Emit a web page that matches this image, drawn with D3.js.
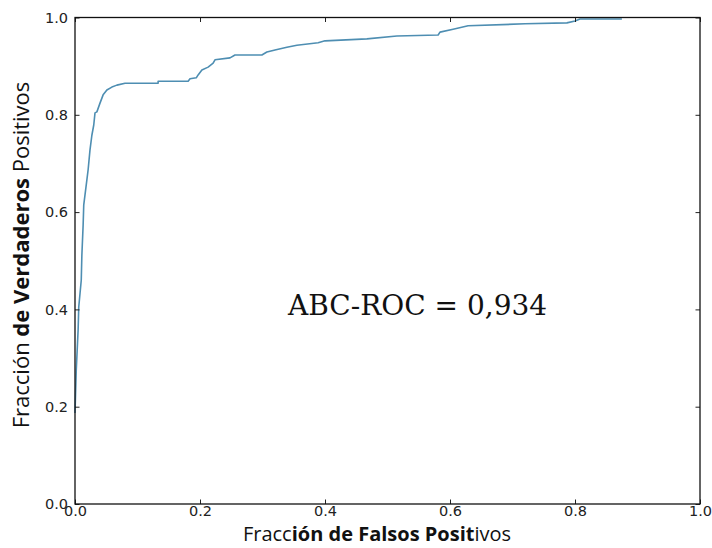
<!DOCTYPE html>
<html>
<head>
<meta charset="utf-8">
<script src="https://cdn.jsdelivr.net/npm/d3@7"></script>
<style>
  html, body { margin: 0; padding: 0; background: #fff; }
  svg { display: block; }
</style>
</head>
<body>
<svg id="chart"></svg>
<script>
// ROC curve points
const fpr = [0.000, 0.002, 0.005, 0.006, 0.010, 0.011, 0.013, 0.014, 0.018, 0.021,
             0.024, 0.027, 0.030, 0.032, 0.035, 0.040, 0.045, 0.051, 0.059, 0.067,
             0.080, 0.133, 0.133, 0.181, 0.184, 0.194, 0.197, 0.203, 0.213, 0.221,
             0.224, 0.248, 0.256, 0.299, 0.307, 0.320, 0.339, 0.355, 0.389, 0.400,
             0.467, 0.515, 0.581, 0.584, 0.605, 0.629, 0.720, 0.787, 0.800, 0.808, 0.875];
const tpr = [0.187, 0.275, 0.358, 0.405, 0.460, 0.512, 0.573, 0.615, 0.656, 0.687,
             0.728, 0.758, 0.779, 0.804, 0.806, 0.824, 0.841, 0.851, 0.857, 0.861,
             0.865, 0.865, 0.869, 0.869, 0.874, 0.876, 0.882, 0.892, 0.898, 0.906,
             0.913, 0.917, 0.923, 0.923, 0.929, 0.933, 0.939, 0.943, 0.948, 0.952,
             0.956, 0.962, 0.964, 0.970, 0.976, 0.983, 0.987, 0.989, 0.993, 0.997, 0.997];
const xTicks = [0, 0.2, 0.4, 0.6, 0.8, 1.0];
const yTicks = [0, 0.2, 0.4, 0.6, 0.8, 1.0];
const xLabelParts = [["Fracc", "normal"], ["ión de Falsos Posit", "bold"], ["ivos", "normal"]];
const yLabelParts = [["Fracción ", "normal"], ["de Verdaderos", "bold"], [" Positivos", "normal"]];
const aucText = "ABC-ROC = 0,934";

const width = 712, height = 548;
const margin = { top: 17.5, right: 12, bottom: 44, left: 75 };

const svg = d3.select("#chart")
  .attr("width", width)
  .attr("height", height);

const x = d3.scaleLinear().domain([0, 1]).range([margin.left, width - margin.right]);
const y = d3.scaleLinear().domain([0, 1]).range([height - margin.bottom, margin.top]);

const tickFont = "DejaVu Sans";

// curve
const pts = fpr.map((d, i) => [d, tpr[i]]);
const line = d3.line().x(d => x(d[0])).y(d => y(d[1]));
svg.append("path")
  .datum(pts)
  .attr("d", line)
  .attr("fill", "none")
  .attr("stroke", "#4e8eb2")
  .attr("stroke-width", 1.6)
  .attr("stroke-linejoin", "round");

// axes: ticks pointing inwards on all four sides
const tk = 4.5;
const axBottom = svg.append("g").attr("transform", `translate(0,${y(0)})`)
  .call(d3.axisBottom(x).tickValues(xTicks).tickSizeInner(-tk).tickSizeOuter(0).tickPadding(2).tickFormat(d3.format(".1f")));
const axTop = svg.append("g").attr("transform", `translate(0,${y(1)})`)
  .call(d3.axisTop(x).tickValues(xTicks).tickSizeInner(-tk).tickSizeOuter(0).tickFormat(""));
const axLeft = svg.append("g").attr("transform", `translate(${x(0)},0)`)
  .call(d3.axisLeft(y).tickValues(yTicks).tickSizeInner(-tk).tickSizeOuter(0).tickPadding(7).tickFormat(d3.format(".1f")));
const axRight = svg.append("g").attr("transform", `translate(${x(1)},0)`)
  .call(d3.axisRight(y).tickValues(yTicks).tickSizeInner(-tk).tickSizeOuter(0).tickFormat(""));

[axBottom, axTop, axLeft, axRight].forEach(g => {
  g.select(".domain").remove();
  g.selectAll(".tick line").attr("stroke", "#222").attr("stroke-width", 1);
  g.selectAll("text").attr("font-family", tickFont).attr("font-size", 14.5).attr("fill", "#222");
});
axBottom.selectAll("text").attr("dy", "0.7em");

// frame
svg.append("rect")
  .attr("x", x(0)).attr("y", y(1))
  .attr("width", x(1) - x(0)).attr("height", y(0) - y(1))
  .attr("fill", "none").attr("stroke", "#111").attr("stroke-width", 1.3);

// axis labels
const xl = svg.append("text")
  .attr("x", 377)
  .attr("y", 541)
  .attr("text-anchor", "middle")
  .attr("font-family", "Open Sans")
  .attr("font-size", 20)
  .attr("fill", "#111");
xLabelParts.forEach(p => xl.append("tspan").attr("font-weight", p[1]).text(p[0]));

const yl = svg.append("text")
  .attr("transform", `translate(29,255) rotate(-90)`)
  .attr("text-anchor", "middle")
  .attr("font-family", "Open Sans")
  .attr("font-size", 22)
  .attr("fill", "#111");
yLabelParts.forEach(p => yl.append("tspan").attr("font-weight", p[1]).text(p[0]));

// AUC annotation
svg.append("text")
  .attr("x", 288)
  .attr("y", 315)
  .attr("font-family", "DejaVu Serif")
  .attr("font-size", 28)
  .attr("fill", "#111")
  .text(aucText);
</script>
</body>
</html>
